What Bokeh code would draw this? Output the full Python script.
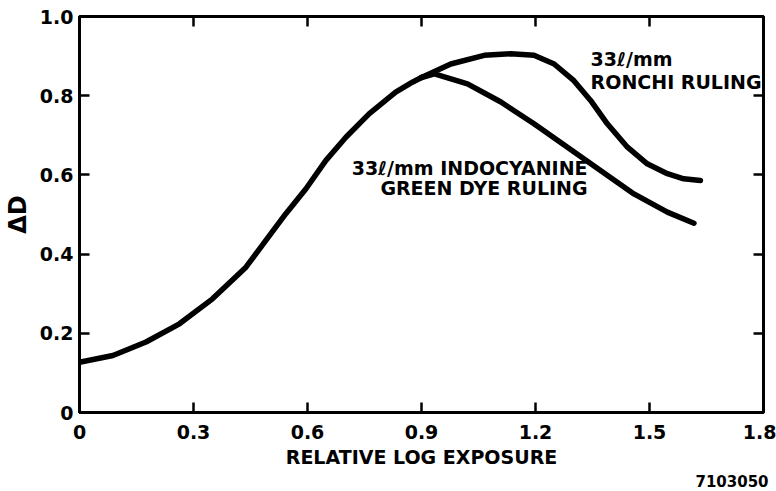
from bokeh.plotting import figure
from bokeh.models import LinearAxis, FixedTicker, Label, Range1d, Title
from bokeh.embed import file_html
from bokeh.resources import INLINE

# Shared rise of both curves (relative log exposure, delta D)
rise_x = [0.0, 0.088, 0.175, 0.263, 0.350, 0.438, 0.490, 0.543, 0.596,
          0.648, 0.701, 0.762, 0.832, 0.876, 0.90]
rise_y = [0.127, 0.144, 0.178, 0.224, 0.287, 0.367, 0.434, 0.502, 0.565,
          0.636, 0.695, 0.754, 0.809, 0.834, 0.846]

# 33 l/mm Ronchi ruling branch
ronchi_x = [0.90, 0.977, 1.065, 1.135, 1.196, 1.249, 1.301, 1.345, 1.389,
            1.442, 1.494, 1.547, 1.590, 1.634]
ronchi_y = [0.846, 0.880, 0.902, 0.906, 0.902, 0.880, 0.838, 0.788, 0.729,
            0.670, 0.628, 0.603, 0.590, 0.586]

# 33 l/mm indocyanine green dye ruling branch
dye_x = [0.90, 0.934, 1.021, 1.109, 1.196, 1.284, 1.371, 1.459, 1.547, 1.617]
dye_y = [0.846, 0.855, 0.830, 0.784, 0.729, 0.670, 0.611, 0.552, 0.506, 0.478]

x_ticks = [0, 0.3, 0.6, 0.9, 1.2, 1.5, 1.8]
x_tick_labels = ["0", "0.3", "0.6", "0.9", "1.2", "1.5", "1.8"]
y_ticks = [0, 0.2, 0.4, 0.6, 0.8, 1.0]
y_tick_labels = ["0", "0.2", "0.4", "0.6", "0.8", "1.0"]

FONT = "DejaVu Sans"
INK = "black"

p = figure(width=776, height=491, output_backend="svg", toolbar_location=None,
           x_range=Range1d(0, 1.8), y_range=Range1d(0, 1.0),
           min_border_left=78, min_border_right=13, min_border_top=16,
           min_border_bottom=79, x_axis_location=None, y_axis_location=None)
p.grid.visible = False
p.outline_line_color = INK
p.outline_line_width = 3
p.background_fill_color = "white"
p.border_fill_color = "white"


def style_axis(ax):
    ax.axis_line_color = INK
    ax.axis_line_width = 3
    ax.major_tick_line_color = INK
    ax.major_tick_line_width = 2.5
    ax.major_tick_in = 10
    ax.major_tick_out = 0
    ax.minor_tick_line_color = None
    ax.major_label_text_font = FONT
    ax.major_label_text_font_style = "bold"
    ax.major_label_text_color = INK
    ax.axis_label_text_font = FONT
    ax.axis_label_text_font_style = "bold"
    ax.axis_label_text_color = INK


bottom = LinearAxis(ticker=FixedTicker(ticks=x_ticks),
                    axis_label="RELATIVE LOG EXPOSURE")
style_axis(bottom)
bottom.major_label_overrides = {t: s for t, s in zip(x_ticks, x_tick_labels)}
bottom.major_label_text_font_size = "19px"
bottom.major_label_standoff = 12
bottom.axis_label_text_font_size = "19px"
bottom.axis_label_standoff = 4
p.add_layout(bottom, "below")

# Figure number under the axis title, flush right
p.add_layout(Title(text="7103050", align="right", text_font=FONT,
                   text_font_style="bold", text_font_size="15px",
                   text_color=INK, standoff=4, offset=-5), "below")

left = LinearAxis(ticker=FixedTicker(ticks=y_ticks), axis_label="\u0394D")
style_axis(left)
left.major_label_overrides = {t: s for t, s in zip(y_ticks, y_tick_labels)}
left.major_label_text_font_size = "19px"
left.major_label_standoff = 6
left.axis_label_text_font_size = "24px"
left.axis_label_standoff = 5
p.add_layout(left, "left")

# Tick-only axes on the top and right edges
top_ticks = x_ticks[1:-1]
top = LinearAxis(ticker=FixedTicker(ticks=top_ticks))
style_axis(top)
top.major_label_overrides = {t: "" for t in top_ticks}
top.major_label_standoff = 0
p.add_layout(top, "above")

right_ticks = y_ticks[1:-1]
right = LinearAxis(ticker=FixedTicker(ticks=right_ticks))
style_axis(right)
right.major_label_overrides = {t: "" for t in right_ticks}
right.major_label_standoff = 0
p.add_layout(right, "right")

# Curves
for xs, ys in ((rise_x, rise_y), (ronchi_x, ronchi_y), (dye_x, dye_y)):
    p.line(xs, ys, line_color=INK, line_width=5.5,
           line_cap="round", line_join="round")


# Curve annotations
def note(x, y, text, align="left", size="19px"):
    p.add_layout(Label(x=x, y=y, text=text, text_font=FONT,
                       text_font_style="bold", text_font_size=size,
                       text_color=INK, text_align=align,
                       text_baseline="alphabetic"))


note(1.345, 0.893, "33\u2113/mm")
note(1.345, 0.835, "RONCHI RULING")
note(1.337, 0.618, "33\u2113/mm INDOCYANINE", align="right")
note(1.337, 0.568, "GREEN DYE RULING", align="right")

open("out.html", "w").write(file_html(p, INLINE))
